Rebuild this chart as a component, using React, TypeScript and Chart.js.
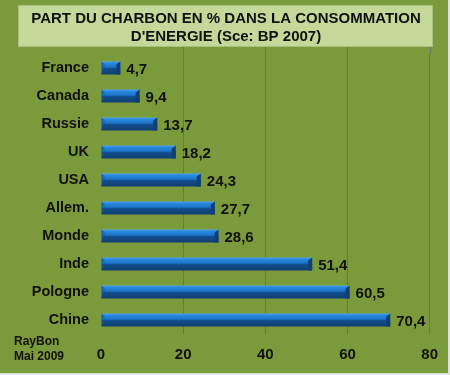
import React, { useEffect, useRef } from "react";
import { Chart, registerables } from "chart.js";

Chart.register(...registerables);

const categories = ["France", "Canada", "Russie", "UK", "USA", "Allem.", "Monde", "Inde", "Pologne", "Chine"];
const coalShare = [4.7, 9.4, 13.7, 18.2, 24.3, 27.7, 28.6, 51.4, 60.5, 70.4];
const xTicks = [20, 40, 60, 80];
const titleLines = ["PART DU CHARBON EN % DANS LA CONSOMMATION", "D'ENERGIE (Sce: BP 2007)"];
const signature = ["RayBon", "Mai 2009"];

const FONT = "Arial, 'Liberation Sans', sans-serif";
const GRID = "#6e7064";

const framePlugin = {
  id: "frame",
  beforeDraw(chart: any) {
    const { ctx, width, height } = chart;
    ctx.save();
    ctx.fillStyle = "#7b9a3c";
    ctx.fillRect(0, 0, width, height);
    ctx.fillStyle = "#dfe3d6";
    ctx.fillRect(width - 2, 0, 2, height);
    ctx.fillRect(0, height - 2, width, 2);
    // grid line extension above the plot area
    const xs = chart.scales.x;
    ctx.strokeStyle = GRID;
    ctx.lineWidth = 1;
    xTicks.forEach((v) => {
      const px = Math.round(xs.getPixelForValue(v)) + 0.5;
      ctx.beginPath();
      ctx.moveTo(px, 47);
      ctx.lineTo(px, chart.chartArea.top);
      ctx.stroke();
    });
    // title box
    ctx.fillStyle = "#c4d89a";
    ctx.fillRect(18, 5, 415, 42);
    ctx.strokeStyle = "#a9bf7c";
    ctx.strokeRect(18.5, 5.5, 414, 41);
    ctx.fillStyle = "#111";
    ctx.font = `bold 15px ${FONT}`;
    ctx.textAlign = "center";
    ctx.textBaseline = "middle";
    ctx.fillText(titleLines[0], 226, 19);
    ctx.fillText(titleLines[1], 226, 37);
    ctx.font = `bold 12px ${FONT}`;
    ctx.textAlign = "left";
    ctx.fillText(signature[0], 14, 342);
    ctx.fillText(signature[1], 14, 357);
    ctx.restore();
  },
  afterDatasetsDraw(chart: any) {
    const { ctx } = chart;
    const meta = chart.getDatasetMeta(0);
    ctx.save();
    meta.data.forEach((bar: any, i: number) => {
      const x0 = bar.base;
      const x1 = bar.x;
      const h = bar.height;
      const top = bar.y - h / 2;
      const g = ctx.createLinearGradient(0, top, 0, top + h);
      g.addColorStop(0, "#4aa3ec");
      g.addColorStop(0.12, "#2a8ae0");
      g.addColorStop(0.45, "#1c72c8");
      g.addColorStop(0.5, "#14508f");
      g.addColorStop(1, "#0f3d70");
      ctx.fillStyle = g;
      ctx.fillRect(x0, top, x1 - x0, h);
      ctx.fillStyle = "#103f74";
      ctx.beginPath();
      ctx.moveTo(x1 - 4, top + 3);
      ctx.lineTo(x1, top);
      ctx.lineTo(x1, top + h);
      ctx.lineTo(x1 - 4, top + h);
      ctx.closePath();
      ctx.fill();
      ctx.fillStyle = "#1565b5";
      ctx.beginPath();
      ctx.moveTo(x0, top);
      ctx.lineTo(x0 + 3, top + 3);
      ctx.lineTo(x0 + 3, top + h / 2);
      ctx.lineTo(x0, top + h / 2);
      ctx.closePath();
      ctx.fill();
      ctx.fillStyle = "#111";
      ctx.font = `bold 15px ${FONT}`;
      ctx.textAlign = "left";
      ctx.textBaseline = "middle";
      ctx.fillText(String(coalShare[i]).replace(".", ","), x1 + 6, bar.y + 2);
    });
    ctx.restore();
  },
};

export default function App() {
  const ref = useRef<HTMLCanvasElement>(null);
  useEffect(() => {
    document.body.style.margin = "0";
    const chart = new Chart(ref.current!, {
      type: "bar",
      data: {
        labels: categories,
        datasets: [{ data: coalShare, backgroundColor: "rgba(0,0,0,0)", barThickness: 13 }],
      },
      plugins: [framePlugin],
      options: {
        indexAxis: "y",
        animation: false,
        responsive: false,
        layout: { padding: { top: 54, right: 20, left: 0, bottom: 0 } },
        plugins: { legend: { display: false }, tooltip: { enabled: false }, title: { display: false } },
        scales: {
          x: {
            min: 0,
            max: 80,
            ticks: { stepSize: 20, color: "#111", font: { family: FONT, size: 15, weight: "bold" }, padding: 12 },
            grid: {
              drawTicks: false,
              color: (c: any) => (c.tick && c.tick.value === 0 ? "rgba(0,0,0,0)" : GRID),
              lineWidth: 1,
            },
            border: { display: false },
            afterFit: (s: any) => {
              s.height = 41;
            },
          },
          y: {
            ticks: { color: "#111", font: { family: FONT, size: 14.5, weight: "bold" }, padding: 12 },
            grid: { display: false, drawTicks: false },
            border: { display: false },
            afterFit: (s: any) => {
              s.width = 101;
            },
          },
        },
      },
    });
    return () => chart.destroy();
  }, []);
  return <canvas ref={ref} width={450} height={375} style={{ display: "block" }} />;
}
